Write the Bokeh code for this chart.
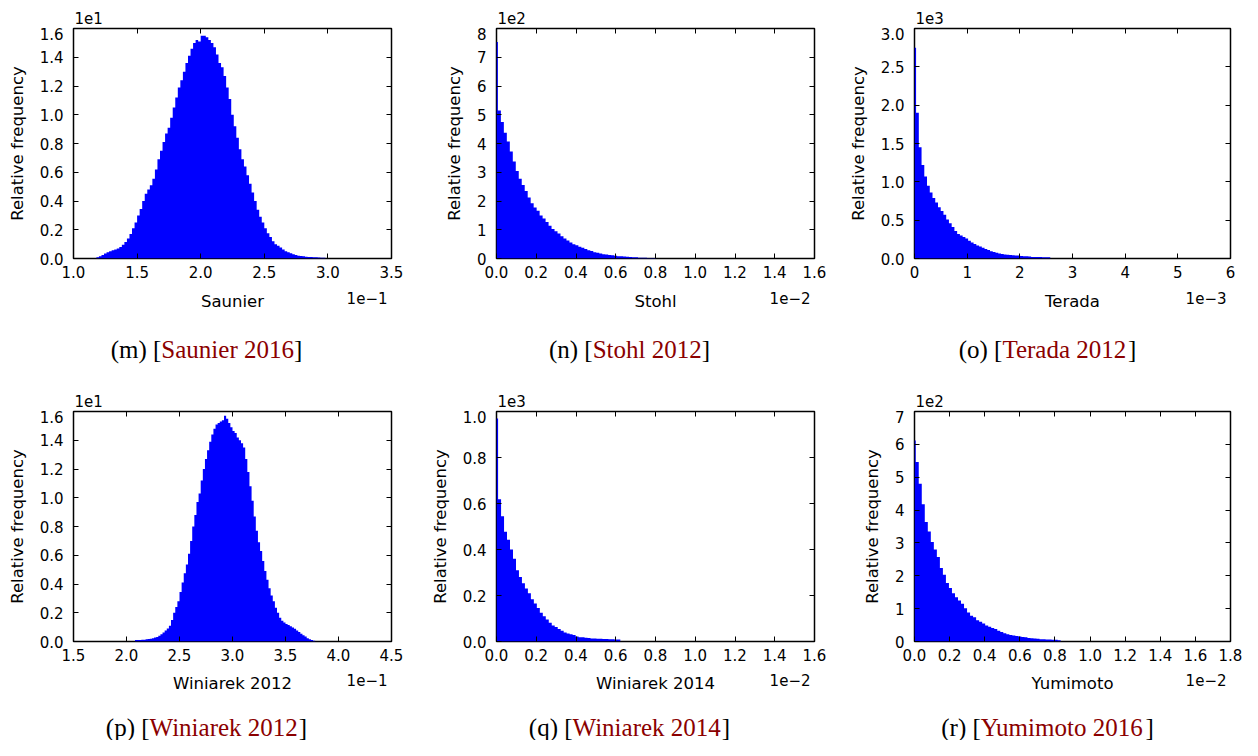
from bokeh.plotting import figure
from bokeh.models import Range1d, FixedTicker, PrintfTickFormatter, LinearAxis, Label
from bokeh.layouts import column, row
from bokeh.embed import file_html
from bokeh.resources import INLINE

# ---------------- data (values in the displayed units; multipliers shown on axes) ----------------
# Saunier: x in 1e-1, relative frequency in 1e1
saunier_start, saunier_first, saunier_bin = 1.18, 0.02, 0.02
saunier_freq = [0.008, 0.016, 0.025, 0.035, 0.043, 0.05, 0.057, 0.063, 0.07, 0.08,
                0.095, 0.115, 0.14, 0.17, 0.21, 0.25, 0.30, 0.345, 0.40, 0.45,
                0.48, 0.51, 0.555, 0.62, 0.69, 0.75, 0.81, 0.87, 0.91, 0.98,
                1.05, 1.12, 1.19, 1.24, 1.30, 1.36, 1.41, 1.46, 1.50, 1.52,
                1.51, 1.55, 1.55, 1.54, 1.52, 1.50, 1.47, 1.42, 1.36, 1.33,
                1.27, 1.19, 1.11, 1.00, 0.92, 0.84, 0.76, 0.69, 0.64, 0.58,
                0.52, 0.46, 0.40, 0.34, 0.29, 0.25, 0.21, 0.175, 0.15, 0.12,
                0.10, 0.088, 0.076, 0.063, 0.051, 0.044, 0.036, 0.029, 0.024, 0.02,
                0.018, 0.016, 0.013, 0.011, 0.010, 0.009, 0.008, 0.007, 0.006, 0.005]

# Stohl: x in 1e-2, relative frequency in 1e2 (first bar is the narrow spike at zero)
stohl_start, stohl_first, stohl_bin = 0.0, 0.007, 0.015
stohl_freq = [7.53, 5.15, 4.75, 4.37, 4.07, 3.72, 3.37, 3.04, 2.77, 2.56, 2.35,
              2.12, 1.92, 1.77, 1.66, 1.50, 1.39, 1.27, 1.14, 1.03, 0.95,
              0.87, 0.77, 0.70, 0.63, 0.56, 0.50, 0.46, 0.41, 0.37, 0.33,
              0.29, 0.26, 0.22, 0.20, 0.17, 0.15, 0.14, 0.12, 0.11, 0.10,
              0.08, 0.08, 0.07, 0.06, 0.05, 0.04, 0.04, 0.03, 0.03, 0.03,
              0.02, 0.02, 0.02]

# Terada: x in 1e-3, relative frequency in 1e3
terada_start, terada_first, terada_bin = 0.0, 0.03, 0.052
terada_freq = [2.75, 1.90, 1.45, 1.22, 1.07, 0.95, 0.86, 0.79, 0.73, 0.67, 0.62,
               0.57, 0.51, 0.46, 0.41, 0.36, 0.32, 0.30, 0.28, 0.26, 0.23,
               0.21, 0.19, 0.17, 0.155, 0.14, 0.125, 0.11, 0.095, 0.085, 0.075,
               0.065, 0.058, 0.052, 0.048, 0.045, 0.042, 0.04, 0.038, 0.034, 0.03,
               0.028, 0.025, 0.02, 0.02, 0.018, 0.018, 0.016, 0.016, 0.015]

# Winiarek 2012: x in 1e-1, relative frequency in 1e1
win12_start, win12_first, win12_bin = 2.08, 0.02, 0.02
win12_freq = [0.01, 0.01, 0.011, 0.012, 0.013, 0.015, 0.017, 0.02, 0.023, 0.027,
              0.032, 0.04, 0.05, 0.062, 0.076, 0.09, 0.11, 0.15, 0.20, 0.24,
              0.28, 0.345, 0.41, 0.475, 0.535, 0.61, 0.70, 0.80, 0.88, 0.97,
              1.03, 1.12, 1.20, 1.27, 1.33, 1.39, 1.44, 1.48, 1.51, 1.52,
              1.53, 1.54, 1.57, 1.55, 1.52, 1.49, 1.465, 1.45, 1.42, 1.40,
              1.38, 1.35, 1.27, 1.18, 1.08, 0.98, 0.87, 0.77, 0.69, 0.63,
              0.56, 0.49, 0.43, 0.37, 0.32, 0.28, 0.235, 0.20, 0.165, 0.145,
              0.132, 0.122, 0.114, 0.106, 0.098, 0.088, 0.077, 0.066, 0.054, 0.043,
              0.034, 0.023, 0.015, 0.01, 0.006]

# Winiarek 2014: x in 1e-2, relative frequency in 1e3
win14_start, win14_first, win14_bin = 0.0, 0.008, 0.015
win14_freq = [0.97, 0.618, 0.545, 0.477, 0.442, 0.40, 0.36, 0.31, 0.28, 0.253, 0.23,
              0.21, 0.184, 0.165, 0.146, 0.125, 0.11, 0.096, 0.082, 0.07, 0.063,
              0.054, 0.047, 0.039, 0.035, 0.031, 0.028, 0.022, 0.019, 0.018, 0.016,
              0.015, 0.013, 0.013, 0.012, 0.012, 0.011, 0.011, 0.010, 0.010, 0.009,
              0.009]

# Yumimoto: x in 1e-2, relative frequency in 1e2
yumi_start, yumi_first, yumi_bin = 0.0, 0.007, 0.0172
yumi_freq = [6.12, 5.46, 4.80, 4.18, 3.64, 3.35, 3.03, 2.80, 2.57, 2.24, 2.03,
             1.78, 1.63, 1.47, 1.35, 1.25, 1.15, 1.01, 0.88, 0.78, 0.74,
             0.65, 0.60, 0.55, 0.49, 0.45, 0.41, 0.38, 0.33, 0.29, 0.25,
             0.22, 0.20, 0.18, 0.17, 0.15, 0.14, 0.13, 0.11, 0.10, 0.09,
             0.08, 0.07, 0.07, 0.06, 0.06, 0.05, 0.05, 0.04]

# axis labels / captions
x_names = ["Saunier", "Stohl", "Terada", "Winiarek 2012", "Winiarek 2014", "Yumimoto"]
cap_letters = ["(m)", "(n)", "(o)", "(p)", "(q)", "(r)"]
cap_refs = ["Saunier 2016", "Stohl 2012", "Terada 2012", "Winiarek 2012", "Winiarek 2014", "Yumimoto 2016"]
x_mult = ["1e\u22121", "1e\u22122", "1e\u22123", "1e\u22121", "1e\u22122", "1e\u22122"]
y_mult = ["1e1", "1e2", "1e3", "1e1", "1e3", "1e2"]
x_ticks = [(1.0, 3.5, 0.5, "%.1f"), (0.0, 1.6, 0.2, "%.1f"), (0, 6, 1, "%d"),
           (1.5, 4.5, 0.5, "%.1f"), (0.0, 1.6, 0.2, "%.1f"), (0.0, 1.8, 0.2, "%.1f")]
y_ticks = [(0.0, 1.6, 0.2, "%.1f"), (0, 8, 1, "%d"), (0.0, 3.0, 0.5, "%.1f"),
           (0.0, 1.6, 0.2, "%.1f"), (0.0, 1.0, 0.2, "%.1f"), (0, 7, 1, "%d")]
hists = [(saunier_start, saunier_first, saunier_bin, saunier_freq),
         (stohl_start, stohl_first, stohl_bin, stohl_freq),
         (terada_start, terada_first, terada_bin, terada_freq),
         (win12_start, win12_first, win12_bin, win12_freq),
         (win14_start, win14_first, win14_bin, win14_freq),
         (yumi_start, yumi_first, yumi_bin, yumi_freq)]

# ---------------- layout / style ----------------
TOTAL_W = 1242
FRAME_H = 230
FRAME_W = [318, 318, 316]
BORDER_L = [73, 76, 76]
BORDER_R = [29, 24, 12]
FRAME_X = [73, 496, 914]          # frame left edges across the page
PLOT_TOP, PLOT_BOTTOM = 1, 26     # borders of the plot figures
STRIP_H = [27, 126, 73]           # text strips: above row 1, between rows, below row 2
SANS = "DejaVu Sans"
SERIF = "Liberation Serif"
TICK_PX = 15
LABEL_PX = 16.5
CAP_PX = 25
CITE_RED = "#8b0000"

TIMES_W = {' ': 250, '(': 333, ')': 333, '[': 333, ']': 333, 'a': 444, 'd': 500, 'e': 444,
           'h': 500, 'i': 278, 'k': 500, 'l': 278, 'm': 778, 'n': 500, 'o': 500, 'p': 500,
           'q': 500, 'r': 333, 't': 278, 'u': 500, 'S': 556, 'T': 611, 'W': 944, 'Y': 722}


def text_w(s, size):
    return sum(TIMES_W.get(c, 500) for c in s) * size / 1000.0


def tick_list(lo, hi, step):
    n = int(round((hi - lo) / step))
    return [round(lo + k * step, 6) for k in range(n + 1)]


def style_axis(ax, ticks, fmt, show_labels=True):
    ax.ticker = FixedTicker(ticks=ticks)
    ax.formatter = PrintfTickFormatter(format=fmt)
    ax.major_tick_in = 5
    ax.major_tick_out = 0
    ax.major_tick_line_color = "black"
    ax.major_tick_line_width = 1
    ax.minor_tick_line_color = None
    ax.axis_line_color = None
    ax.major_label_text_font = SANS
    ax.major_label_text_font_size = "%gpx" % TICK_PX
    if show_labels:
        ax.major_label_text_color = "black"
    else:
        ax.major_label_text_color = None
        ax.major_label_standoff = 0


def make_panel(i):
    col = i % 3
    xlo, xhi, xstep, xfmt = x_ticks[i]
    ylo, yhi, ystep, yfmt = y_ticks[i]
    start, first, binw, freq = hists[i]

    p = figure(frame_width=FRAME_W[col], frame_height=FRAME_H,
               min_border_left=BORDER_L[col], min_border_right=BORDER_R[col],
               min_border_top=PLOT_TOP, min_border_bottom=PLOT_BOTTOM,
               x_range=Range1d(xlo, xhi), y_range=Range1d(ylo, yhi),
               output_backend="svg", toolbar_location=None,
               background_fill_color="white", border_fill_color="white")
    p.grid.visible = False
    p.outline_line_color = "black"
    p.outline_line_width = 1.5
    p.outline_line_alpha = 1.0

    # histogram drawn as one filled step area (bin edges -> heights)
    edges = [start, start + first] + [start + first + binw * k for k in range(1, len(freq))]
    ys = list(freq) + [freq[-1]]
    p.varea_step(x=edges, y1=0, y2=ys, step_mode="after", fill_color="#0000ff", fill_alpha=1.0)

    xt = tick_list(xlo, xhi, xstep)
    yt = tick_list(ylo, yhi, ystep)
    style_axis(p.xaxis[0], xt, xfmt)
    style_axis(p.yaxis[0], yt, yfmt)
    p.xaxis[0].major_label_standoff = 7
    p.yaxis[0].major_label_standoff = 10

    p.yaxis[0].axis_label = "Relative frequency"
    p.yaxis[0].axis_label_text_font = SANS
    p.yaxis[0].axis_label_text_font_size = "%gpx" % LABEL_PX
    p.yaxis[0].axis_label_text_font_style = "normal"
    p.yaxis[0].axis_label_text_color = "black"
    p.yaxis[0].axis_label_standoff = 10

    top_ax = LinearAxis()
    right_ax = LinearAxis()
    style_axis(top_ax, xt, xfmt, show_labels=False)
    style_axis(right_ax, yt, yfmt, show_labels=False)
    p.add_layout(top_ax, "above")
    p.add_layout(right_ax, "right")
    return p


def make_strip(h):
    s = figure(frame_width=TOTAL_W, frame_height=h, min_border=0,
               min_border_left=0, min_border_right=0, min_border_top=0, min_border_bottom=0,
               x_range=Range1d(0, TOTAL_W), y_range=Range1d(0, h),
               x_axis_type=None, y_axis_type=None, title_location=None,
               output_backend="svg", toolbar_location=None,
               background_fill_color="white", border_fill_color="white")
    s.grid.visible = False
    s.outline_line_color = None
    return s


def add_text(s, x, y, text, font, size, color="black", align="left"):
    # y is the wanted baseline (px above the strip bottom); the renderer sits the
    # alphabetic baseline about 0.3 em lower, so lift it by that amount.
    s.add_layout(Label(x=x, y=y + 0.3 * size, x_units="screen", y_units="screen", text=text,
                       text_font=font, text_font_size="%gpx" % size, text_color=color,
                       text_align=align, text_baseline="alphabetic"))


def add_bottom_texts(s, i, y_xlabel, y_mult, y_cap):
    col = i % 3
    fl, fw = FRAME_X[col], FRAME_W[col]
    add_text(s, fl + fw / 2.0, y_xlabel, x_names[i], SANS, LABEL_PX, align="center")
    add_text(s, fl + fw - 4, y_mult, x_mult[i], SANS, TICK_PX, align="right")
    pre, ref, post = cap_letters[i] + " [", cap_refs[i], "]"
    total = text_w(pre, CAP_PX) + text_w(ref, CAP_PX) + text_w(post, CAP_PX)
    xc = fl + 133 - total / 2.0
    for txt, colr in ((pre, "black"), (ref, CITE_RED), (post, "black")):
        add_text(s, xc, y_cap, txt, SERIF, CAP_PX, color=colr)
        xc += text_w(txt, CAP_PX)


def add_top_text(s, i, y):
    col = i % 3
    add_text(s, FRAME_X[col] + 1, y, y_mult[i], SANS, TICK_PX)


panels = [make_panel(i) for i in range(6)]

strip_a = make_strip(STRIP_H[0])
for i in range(3):
    add_top_text(strip_a, i, 5)

strip_c = make_strip(STRIP_H[1])
for i in range(3):
    add_bottom_texts(strip_c, i, 104, 108, 54)
for i in range(3, 6):
    add_top_text(strip_c, i, 5)

strip_e = make_strip(STRIP_H[2])
for i in range(3, 6):
    add_bottom_texts(strip_e, i, 52, 56, 6)

layout = column(strip_a,
                row(*panels[:3], spacing=0),
                strip_c,
                row(*panels[3:], spacing=0),
                strip_e, spacing=0)

open("out.html", "w").write(file_html(layout, INLINE))
